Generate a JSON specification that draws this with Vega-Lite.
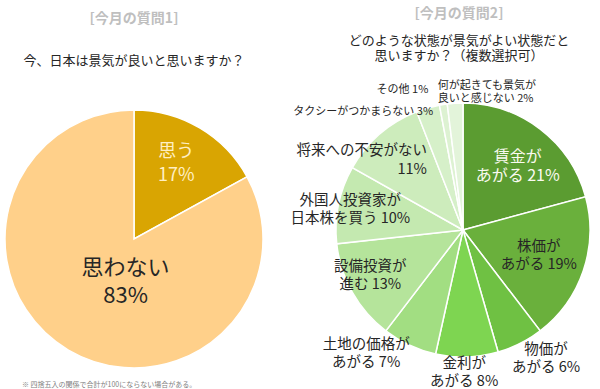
{
  "$schema": "https://vega.github.io/schema/vega-lite/v6.json",
  "padding": {"left": 0, "top": 7, "right": 0, "bottom": 0},
  "spacing": 60,
  "bounds": "flush",
  "title": {"text": "※ 四捨五入の関係で合計が100にならない場合がある。", "orient": "bottom", "anchor": "start", "fontSize": 7, "color": "#7F7F7F", "fontWeight": "normal", "offset": -11, "dx": 22},
  "config": {"view": {"stroke": null}, "font": "Noto Sans CJK JP"},
  "resolve": {"scale": {"color": "independent", "theta": "independent"}},
  "datasets": {
    "q1": [
      {"k": "思う", "v": 17, "i": 1, "label": "思う\n17%"},
      {"k": "思わない", "v": 83, "i": 2, "label": "思わない\n83%"}
    ],
    "q2": [
      {"k": "賃金があがる", "v": 21, "i": 1, "label": "賃金が\nあがる 21%"},
      {"k": "株価があがる", "v": 19, "i": 2, "label": "株価が\nあがる 19%"},
      {"k": "物価があがる", "v": 6, "i": 3, "label": "物価が\nあがる 6%"},
      {"k": "金利があがる", "v": 8, "i": 4, "label": "金利が\nあがる 8%"},
      {"k": "土地の価格があがる", "v": 7, "i": 5, "label": "土地の価格が\nあがる 7%"},
      {"k": "設備投資が進む", "v": 13, "i": 6, "label": "設備投資が\n進む 13%"},
      {"k": "外国人投資家が日本株を買う", "v": 10, "i": 7, "label": "外国人投資家が\n日本株を買う 10%"},
      {"k": "将来への不安がない", "v": 11, "i": 8, "label": "将来への不安がない\n11%"},
      {"k": "タクシーがつかまらない", "v": 3, "i": 9, "label": "タクシーがつかまらない 3%"},
      {"k": "その他", "v": 1, "i": 10, "label": "その他 1%"},
      {"k": "何が起きても景気が良いと感じない", "v": 2, "i": 11, "label": "何が起きても景気が\n良いと感じない 2%"}
    ]
  },
  "hconcat": [
    {
      "width": 268,
      "height": 306,
      "title": {"text": "[今月の質問1]", "subtitle": "今、日本は景気が良いと思いますか？", "fontSize": 14, "fontWeight": "bold", "color": "#BFBFBF", "subtitleFontSize": 13, "subtitleColor": "#262626", "subtitlePadding": 29, "offset": 18, "anchor": "middle", "frame": "group"},
      "data": {"name": "q1"},
      "encoding": {
        "theta": {"field": "v", "type": "quantitative", "stack": true},
        "order": {"field": "i", "type": "quantitative"}
      },
      "layer": [
        {
          "mark": {"type": "arc", "radius": 129, "stroke": "white", "strokeWidth": 1.5},
          "encoding": {"color": {"field": "k", "type": "nominal", "legend": null, "scale": {"domain": ["思う", "思わない"], "range": ["#D9A502", "#FFD08A"]}}}
        },
        {
          "mark": {"type": "text", "radius": 87, "lineHeight": 24, "lineBreak": "\n", "fill": "#FFEFC2", "align": "center", "baseline": "middle", "dx": -2, "dy": -12},
          "encoding": {
            "text": {"condition": {"test": "datum.k === '思う'", "field": "label", "type": "nominal"}, "value": ""},
            "size": {"condition": {"test": "datum.k === '思う'", "value": 18}, "value": 0}
          }
        },
        {
          "mark": {"type": "text", "radius": 48, "lineHeight": 28, "lineBreak": "\n", "fill": "#262626", "align": "center", "baseline": "middle", "dx": 16, "dy": -12},
          "encoding": {
            "text": {"condition": {"test": "datum.k === '思わない'", "field": "label", "type": "nominal"}, "value": ""},
            "size": {"condition": {"test": "datum.k === '思わない'", "value": 22}, "value": 0}
          }
        }
      ]
    },
    {
      "width": 270,
      "height": 288,
      "title": {"text": "[今月の質問2]", "subtitle": ["どのような状態が景気がよい状態だと", "思いますか？（複数選択可）"], "fontSize": 14, "fontWeight": "bold", "color": "#BFBFBF", "subtitleFontSize": 13, "subtitleLineHeight": 15, "subtitleColor": "#262626", "subtitlePadding": 14, "offset": 17, "anchor": "middle", "frame": "group", "dx": -4},
      "data": {"name": "q2"},
      "encoding": {
        "theta": {"field": "v", "type": "quantitative", "stack": true},
        "order": {"field": "i", "type": "quantitative"}
      },
      "layer": [
        {
          "mark": {"type": "arc", "radius": 127, "stroke": "white", "strokeWidth": 1.5},
          "encoding": {"color": {"field": "k", "type": "nominal", "legend": null, "scale": {
            "domain": ["賃金があがる", "株価があがる", "物価があがる", "金利があがる", "土地の価格があがる", "設備投資が進む", "外国人投資家が日本株を買う", "将来への不安がない", "タクシーがつかまらない", "その他", "何が起きても景気が良いと感じない"],
            "range": ["#5B9C31", "#6AB03C", "#6FC143", "#7ED551", "#A2DE82", "#B5E49B", "#C4E9B0", "#CDECBC", "#D6F0C9", "#DDF2D2", "#E3F4DA"]}}}
        },
        {
          "mark": {"type": "text", "radius": 90, "lineHeight": 19, "lineBreak": "\n", "fill": "#FAFAF0", "align": "center", "baseline": "middle", "dy": -1.5},
          "encoding": {
            "text": {"condition": {"test": "datum.k === '賃金があがる'", "field": "label", "type": "nominal"}, "value": ""},
            "size": {"condition": {"test": "datum.k === '賃金があがる'", "value": 16}, "value": 0}
          }
        },
        {
          "mark": {"type": "text", "radius": 80, "lineHeight": 18, "lineBreak": "\n", "fill": "#262626", "align": "center", "baseline": "middle", "dy": -9},
          "encoding": {
            "text": {"condition": {"test": "datum.k === '株価があがる'", "field": "label", "type": "nominal"}, "value": ""},
            "size": {"condition": {"test": "datum.k === '株価があがる'", "value": 14.5}, "value": 0}
          }
        },
        {
          "mark": {"type": "text", "radius": 138, "lineHeight": 18, "lineBreak": "\n", "fill": "#262626", "align": "center", "baseline": "middle", "dx": 21, "dy": -3},
          "encoding": {
            "text": {"condition": {"test": "datum.k === '物価があがる'", "field": "label", "type": "nominal"}, "value": ""},
            "size": {"condition": {"test": "datum.k === '物価があがる'", "value": 14.5}, "value": 0}
          }
        },
        {
          "mark": {"type": "text", "radius": 134, "lineHeight": 18, "lineBreak": "\n", "fill": "#262626", "align": "center", "baseline": "middle", "dx": -3, "dy": 0},
          "encoding": {
            "text": {"condition": {"test": "datum.k === '金利があがる'", "field": "label", "type": "nominal"}, "value": ""},
            "size": {"condition": {"test": "datum.k === '金利があがる'", "value": 14.5}, "value": 0}
          }
        },
        {
          "mark": {"type": "text", "radius": 130, "lineHeight": 18, "lineBreak": "\n", "fill": "#262626", "align": "center", "baseline": "middle", "dx": -42, "dy": -3},
          "encoding": {
            "text": {"condition": {"test": "datum.k === '土地の価格があがる'", "field": "label", "type": "nominal"}, "value": ""},
            "size": {"condition": {"test": "datum.k === '土地の価格があがる'", "value": 14.5}, "value": 0}
          }
        },
        {
          "mark": {"type": "text", "radius": 103, "lineHeight": 18, "lineBreak": "\n", "fill": "#262626", "align": "center", "baseline": "middle", "dx": -3, "dy": -14},
          "encoding": {
            "text": {"condition": {"test": "datum.k === '設備投資が進む'", "field": "label", "type": "nominal"}, "value": ""},
            "size": {"condition": {"test": "datum.k === '設備投資が進む'", "value": 14.5}, "value": 0}
          }
        },
        {
          "mark": {"type": "text", "radius": 115, "lineHeight": 18, "lineBreak": "\n", "fill": "#262626", "align": "center", "baseline": "middle", "dy": -6},
          "encoding": {
            "text": {"condition": {"test": "datum.k === '外国人投資家が日本株を買う'", "field": "label", "type": "nominal"}, "value": ""},
            "size": {"condition": {"test": "datum.k === '外国人投資家が日本株を買う'", "value": 14.5}, "value": 0}
          }
        },
        {
          "mark": {"type": "text", "radius": 90, "lineHeight": 19, "lineBreak": "\n", "fill": "#262626", "align": "right", "baseline": "middle", "dx": 23, "dy": -11.5},
          "encoding": {
            "text": {"condition": {"test": "datum.k === '将来への不安がない'", "field": "label", "type": "nominal"}, "value": ""},
            "size": {"condition": {"test": "datum.k === '将来への不安がない'", "value": 14.5}, "value": 0}
          }
        },
        {
          "mark": {"type": "text", "radius": 123, "lineHeight": 13, "lineBreak": "\n", "fill": "#262626", "align": "right", "baseline": "middle", "dx": 4},
          "encoding": {
            "text": {"condition": {"test": "datum.k === 'タクシーがつかまらない'", "field": "label", "type": "nominal"}, "value": ""},
            "size": {"condition": {"test": "datum.k === 'タクシーがつかまらない'", "value": 11}, "value": 0}
          }
        },
        {
          "mark": {"type": "text", "radius": 140, "lineHeight": 13, "lineBreak": "\n", "fill": "#262626", "align": "right", "baseline": "middle", "dx": -13, "dy": -2},
          "encoding": {
            "text": {"condition": {"test": "datum.k === 'その他'", "field": "label", "type": "nominal"}, "value": ""},
            "size": {"condition": {"test": "datum.k === 'その他'", "value": 11}, "value": 0}
          }
        },
        {
          "mark": {"type": "text", "radius": 134, "lineHeight": 12.5, "lineBreak": "\n", "fill": "#262626", "align": "left", "baseline": "middle", "dx": -17, "dy": -10},
          "encoding": {
            "text": {"condition": {"test": "datum.k === '何が起きても景気が良いと感じない'", "field": "label", "type": "nominal"}, "value": ""},
            "size": {"condition": {"test": "datum.k === '何が起きても景気が良いと感じない'", "value": 11}, "value": 0}
          }
        }
      ]
    }
  ]
}
